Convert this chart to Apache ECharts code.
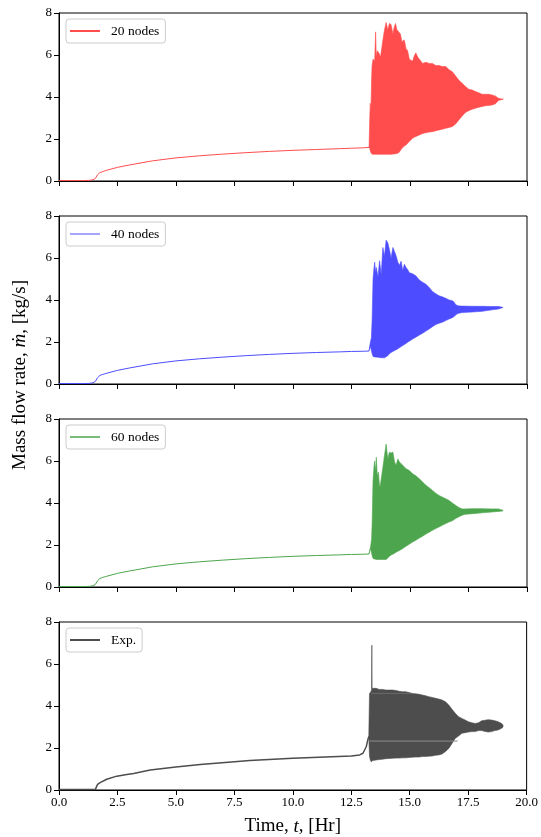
<!DOCTYPE html>
<html><head><meta charset="utf-8">
<script src="https://cdn.jsdelivr.net/npm/echarts@6/dist/echarts.min.js"></script>
<style>html,body{margin:0;padding:0;background:#fff}#c{width:541px;height:837px}</style>
</head><body><div id="c"></div>
<script>
// ---------- data ----------
const xTicks = [0, 2.5, 5, 7.5, 10, 12.5, 15, 17.5, 20];
const yTicks = [0, 2, 4, 6, 8];
const seriesNames = ['20 nodes', '40 nodes', '60 nodes', 'Exp.'];

// pre-oscillation part (simulations)
const preT = [0, 1.0, 1.3, 1.45, 1.55, 1.65, 1.75, 1.85, 2.0, 2.5, 3.0, 3.5, 4.0, 5.0, 6.0, 7.0, 8.0, 9.0, 10.0, 11.0, 12.0, 12.5, 13.0, 13.25];
const pre20 = [0.02, 0.02, 0.03, 0.06, 0.12, 0.3, 0.4, 0.44, 0.5, 0.65, 0.76, 0.86, 0.96, 1.1, 1.2, 1.28, 1.35, 1.41, 1.46, 1.5, 1.54, 1.56, 1.58, 1.6];
const pre40 = [0.02, 0.02, 0.03, 0.06, 0.12, 0.3, 0.41, 0.45, 0.5, 0.65, 0.76, 0.86, 0.96, 1.1, 1.2, 1.28, 1.35, 1.41, 1.46, 1.5, 1.53, 1.55, 1.56, 1.57];
const pre60 = [0.02, 0.02, 0.03, 0.06, 0.12, 0.3, 0.41, 0.45, 0.5, 0.65, 0.76, 0.86, 0.96, 1.1, 1.2, 1.28, 1.35, 1.41, 1.46, 1.5, 1.53, 1.55, 1.56, 1.57];
// pre-oscillation part (experiment)
const preTExp = [0, 1.0, 1.55, 1.6, 1.65, 1.76, 2.04, 2.47, 2.9, 3.19, 3.9, 5.0, 6.04, 7.5, 8.16, 10.0, 12.5, 12.86, 13.0, 13.07, 13.14, 13.21, 13.25];
const preExp = [0.02, 0.02, 0.02, 0.08, 0.27, 0.35, 0.51, 0.66, 0.74, 0.79, 0.95, 1.1, 1.22, 1.35, 1.4, 1.51, 1.62, 1.67, 1.75, 1.83, 2.06, 2.4, 2.55];

// oscillation envelopes, 20 nodes
const oscT20 = [13.25, 13.28, 13.30, 13.33, 13.36, 13.38, 13.42, 13.46, 13.49, 13.53, 13.56, 13.60, 13.67, 13.74, 13.79, 13.84, 13.91, 13.98, 14.05, 14.12, 14.19, 14.27, 14.32, 14.38, 14.44, 14.52, 14.59, 14.66, 14.71, 14.76, 14.83, 14.90, 14.97, 15.04, 15.11, 15.18, 15.25, 15.33, 15.40, 15.47, 15.54, 15.68, 15.82, 15.96, 16.10, 16.24, 16.38, 16.53, 16.67, 16.81, 16.95, 17.09, 17.23, 17.37, 17.51, 17.66, 17.80, 17.94, 18.08, 18.22, 18.36, 18.50, 18.64, 18.78, 18.93, 18.99];
const oscHi20 = [1.62, 3.0, 3.7, 3.3, 4.9, 5.5, 5.8, 5.75, 5.7, 7.1, 5.9, 6.2, 6.1, 5.9, 6.3, 6.7, 7.2, 7.55, 7.2, 7.5, 7.45, 7.0, 7.3, 7.5, 7.2, 7.1, 7.0, 6.6, 6.7, 6.7, 6.3, 6.2, 5.8, 5.75, 5.7, 5.95, 6.1, 5.9, 5.8, 5.7, 5.6, 5.65, 5.6, 5.6, 5.5, 5.5, 5.45, 5.45, 5.3, 5.2, 5.0, 4.8, 4.65, 4.5, 4.37, 4.33, 4.26, 4.2, 4.13, 4.13, 4.13, 4.1, 4.05, 3.94, 3.9, 3.9];
const oscLo20 = [1.6, 1.55, 1.45, 1.35, 1.3, 1.28, 1.27, 1.27, 1.27, 1.27, 1.27, 1.27, 1.27, 1.27, 1.27, 1.27, 1.27, 1.27, 1.27, 1.27, 1.27, 1.28, 1.29, 1.3, 1.31, 1.35, 1.45, 1.56, 1.62, 1.67, 1.72, 1.8, 1.88, 1.96, 2.03, 2.08, 2.12, 2.16, 2.19, 2.23, 2.26, 2.3, 2.33, 2.35, 2.39, 2.43, 2.47, 2.51, 2.55, 2.59, 2.72, 2.91, 3.1, 3.26, 3.35, 3.42, 3.47, 3.51, 3.55, 3.58, 3.6, 3.62, 3.67, 3.83, 3.88, 3.9];

// oscillation envelopes, 40 nodes
const oscT40 = [13.25, 13.30, 13.35, 13.38, 13.42, 13.46, 13.49, 13.53, 13.56, 13.63, 13.70, 13.77, 13.84, 13.91, 13.98, 14.05, 14.12, 14.19, 14.27, 14.34, 14.41, 14.48, 14.55, 14.62, 14.69, 14.76, 14.83, 14.90, 14.97, 15.11, 15.25, 15.40, 15.54, 15.68, 15.82, 15.96, 16.10, 16.24, 16.38, 16.53, 16.67, 16.81, 16.88, 16.95, 17.02, 17.09, 17.23, 17.66, 18.08, 18.50, 18.78, 18.97];
const oscHi40 = [1.59, 1.95, 2.2, 3.0, 5.0, 5.5, 5.8, 5.3, 5.55, 5.1, 5.87, 5.2, 6.5, 6.1, 6.85, 6.73, 6.4, 6.0, 6.5, 6.3, 6.1, 5.8, 5.65, 5.85, 5.4, 5.7, 5.55, 5.45, 5.3, 5.25, 5.15, 4.95, 4.84, 4.75, 4.6, 4.41, 4.3, 4.2, 4.15, 4.08, 4.0, 3.97, 3.9, 3.78, 3.74, 3.72, 3.71, 3.7, 3.7, 3.69, 3.69, 3.65];
const oscLo40 = [1.57, 1.8, 1.6, 1.45, 1.31, 1.3, 1.29, 1.28, 1.28, 1.27, 1.26, 1.25, 1.25, 1.25, 1.3, 1.35, 1.44, 1.5, 1.55, 1.59, 1.63, 1.68, 1.73, 1.78, 1.83, 1.88, 1.93, 1.99, 2.04, 2.14, 2.23, 2.33, 2.42, 2.52, 2.62, 2.73, 2.83, 2.89, 2.94, 3.02, 3.1, 3.16, 3.21, 3.28, 3.34, 3.37, 3.4, 3.43, 3.46, 3.53, 3.57, 3.64];

// oscillation envelopes, 60 nodes
const oscT60 = [13.25, 13.32, 13.36, 13.38, 13.42, 13.46, 13.49, 13.53, 13.56, 13.60, 13.65, 13.70, 13.74, 13.79, 13.84, 13.91, 13.98, 14.05, 14.12, 14.19, 14.27, 14.34, 14.41, 14.48, 14.55, 14.62, 14.69, 14.83, 14.97, 15.11, 15.25, 15.40, 15.54, 15.68, 15.82, 15.96, 16.10, 16.24, 16.38, 16.53, 16.67, 16.81, 16.95, 17.09, 17.23, 17.37, 17.66, 18.08, 18.50, 18.78, 18.97];
const oscHi60 = [1.59, 1.95, 2.3, 2.94, 5.07, 5.7, 6.0, 5.5, 6.18, 5.3, 5.47, 4.75, 4.9, 5.3, 5.7, 6.26, 6.81, 6.1, 6.42, 6.38, 6.42, 5.95, 5.8, 6.1, 5.95, 5.87, 5.8, 5.63, 5.55, 5.39, 5.3, 5.15, 5.0, 4.84, 4.73, 4.6, 4.47, 4.36, 4.28, 4.2, 4.12, 4.0, 3.89, 3.78, 3.72, 3.72, 3.73, 3.73, 3.72, 3.72, 3.65];
const oscLo60 = [1.57, 1.85, 1.6, 1.5, 1.36, 1.34, 1.33, 1.32, 1.31, 1.31, 1.31, 1.31, 1.31, 1.31, 1.31, 1.31, 1.31, 1.38, 1.47, 1.52, 1.56, 1.61, 1.66, 1.7, 1.74, 1.79, 1.83, 1.94, 2.04, 2.14, 2.23, 2.33, 2.42, 2.52, 2.61, 2.7, 2.78, 2.86, 2.94, 3.02, 3.1, 3.16, 3.26, 3.34, 3.42, 3.46, 3.49, 3.53, 3.57, 3.6, 3.62];

// oscillation envelopes, experiment
const oscTExp = [13.25, 13.28, 13.32, 13.35, 13.37, 13.38, 13.39, 13.42, 13.56, 13.70, 13.84, 13.98, 14.12, 14.27, 14.41, 14.55, 14.69, 14.83, 14.97, 15.11, 15.25, 15.40, 15.54, 15.68, 15.82, 15.96, 16.10, 16.24, 16.38, 16.53, 16.67, 16.81, 16.95, 17.09, 17.23, 17.37, 17.51, 17.66, 17.80, 17.94, 18.08, 18.22, 18.36, 18.50, 18.64, 18.78, 18.93, 18.99];
const oscHiExp = [2.6, 4.6, 4.65, 4.7, 4.8, 6.9, 4.85, 4.84, 4.84, 4.79, 4.79, 4.76, 4.76, 4.76, 4.74, 4.7, 4.68, 4.68, 4.64, 4.6, 4.58, 4.56, 4.52, 4.49, 4.44, 4.41, 4.37, 4.33, 4.29, 4.2, 4.05, 3.84, 3.65, 3.49, 3.41, 3.33, 3.25, 3.2, 3.17, 3.2, 3.3, 3.32, 3.35, 3.33, 3.3, 3.25, 3.17, 3.1];
const oscLoExp = [2.5, 1.6, 1.4, 1.35, 1.36, 1.37, 1.38, 1.4, 1.43, 1.45, 1.47, 1.49, 1.5, 1.51, 1.52, 1.52, 1.53, 1.53, 1.55, 1.56, 1.57, 1.57, 1.59, 1.6, 1.61, 1.62, 1.65, 1.67, 1.71, 1.83, 1.98, 2.22, 2.46, 2.57, 2.7, 2.73, 2.76, 2.78, 2.78, 2.83, 2.83, 2.79, 2.76, 2.78, 2.83, 2.86, 2.94, 3.0];
// light straight traces inside the experimental band
const expTraceT = [13.27, 17.05];
const expTraceV = [2.33, 2.33];
const expTrace2T = [13.35, 15.05];
const expTrace2V = [4.6, 4.6];

// ---------- chart ----------
const FONT = 'Liberation Serif';
const gridTops = [13, 216, 419, 622];
const gridH = 168, gridL = 59, gridW = 468;
const colors = ['#ff4d4d', '#4d4dff', '#4da64d', '#4d4d4d'];
const panels = [
  {pt: preT, pv: pre20, ot: oscT20, hi: oscHi20, lo: oscLo20, lw: 1, legLw: 2},
  {pt: preT, pv: pre40, ot: oscT40, hi: oscHi40, lo: oscLo40, lw: 1, legLw: 1},
  {pt: preT, pv: pre60, ot: oscT60, hi: oscHi60, lo: oscLo60, lw: 1, legLw: 1.5},
  {pt: preTExp, pv: preExp, ot: oscTExp, hi: oscHiExp, lo: oscLoExp, lw: 1.5, legLw: 2}
];
const zip = (a, b) => a.map((v, i) => [v, b[i]]);

// band between lower and upper envelope, drawn once from all data items
function bandRenderer(color) {
  return function (params, api) {
    if (params.dataIndexInside !== 0) return null;
    const n = params.dataInsideLength;
    const top = [], bot = [];
    for (let i = 0; i < n; i++) {
      const t = api.value(0, i), lo = api.value(1, i), hi = api.value(2, i);
      top.push(api.coord([t, hi]));
      bot.push(api.coord([t, lo]));
    }
    const pts = top.concat(bot.reverse());
    return {
      type: 'polygon', shape: {points: pts},
      style: {fill: color, stroke: color, lineWidth: 0.6},
      silent: true
    };
  };
}

const grid = [], xAxis = [], yAxis = [], series = [], legend = [];
panels.forEach((p, k) => {
  grid.push({left: gridL, top: gridTops[k], width: gridW, height: gridH, show: true, borderColor: '#000', borderWidth: 1, backgroundColor: 'transparent'});
  const last = k === panels.length - 1;
  xAxis.push({
    type: 'value', gridIndex: k, min: xTicks[0], max: xTicks[xTicks.length - 1], interval: xTicks[1] - xTicks[0],
    axisLine: {show: true, onZero: false, lineStyle: {color: '#000', width: 1}},
    axisTick: {show: true, length: 5, lineStyle: {color: '#000', width: 1}},
    axisLabel: {show: last, margin: 6, fontFamily: FONT, fontSize: 13, color: '#000', formatter: v => v.toFixed(1)},
    splitLine: {show: false},
    name: last ? 'Time, {it|t}, [Hr]' : '', nameLocation: 'middle', nameGap: 27,
    nameTextStyle: {fontFamily: FONT, fontSize: 19, color: '#000', rich: {it: {fontFamily: FONT, fontStyle: 'italic', fontSize: 19, color: '#000'}}}
  });
  yAxis.push({
    type: 'value', gridIndex: k, min: yTicks[0], max: yTicks[yTicks.length - 1], interval: yTicks[1] - yTicks[0],
    axisLine: {show: true, onZero: false, lineStyle: {color: '#000', width: 1}},
    axisTick: {show: true, length: 5, lineStyle: {color: '#000', width: 1}},
    axisLabel: {margin: 7, fontFamily: FONT, fontSize: 13, color: '#000'},
    splitLine: {show: false}
  });
  const c = colors[k];
  series.push({
    name: seriesNames[k], type: 'line', xAxisIndex: k, yAxisIndex: k, data: zip(p.pt, p.pv),
    symbol: 'none', showSymbol: false, lineStyle: {color: c, width: p.lw}, itemStyle: {color: c}, z: 3
  });
  series.push({
    name: 'band' + k, type: 'custom', xAxisIndex: k, yAxisIndex: k,
    data: p.ot.map((t, i) => [t, p.lo[i], p.hi[i]]),
    encode: {x: 0, y: [1, 2]}, renderItem: bandRenderer(c), silent: true, z: 2
  });
  legend.push({
    data: [{name: seriesNames[k], icon: 'rect'}], left: 66, top: gridTops[k] + 6,
    itemWidth: 30, itemHeight: p.legLw,
    padding: [5, 6, 5, 4], borderColor: '#cccccc', borderWidth: 1, borderRadius: 3,
    backgroundColor: 'rgba(255,255,255,0.8)', selectedMode: false,
    itemStyle: {color: c},
    textStyle: {fontFamily: FONT, fontSize: 13.5, color: '#000', padding: [3, 0, 3, 6]}
  });
});
series.push({
  name: 'trace1', type: 'line', xAxisIndex: 3, yAxisIndex: 3, data: zip(expTraceT, expTraceV),
  symbol: 'none', lineStyle: {color: '#8c8c8c', width: 1}, silent: true, z: 4
});
series.push({
  name: 'trace2', type: 'line', xAxisIndex: 3, yAxisIndex: 3, data: zip(expTrace2T, expTrace2V),
  symbol: 'none', lineStyle: {color: '#6a6a6a', width: 1}, silent: true, z: 4
});

const chart = echarts.init(document.getElementById('c'), null, {renderer: 'canvas'});
chart.setOption({
  animation: false, backgroundColor: '#fff',
  grid, xAxis, yAxis, series, legend,
  graphic: [{
    type: 'text', x: 20, y: 375, rotation: Math.PI / 2,
    style: {
      text: 'Mass flow rate, {it|ṁ}, [kg/s]', fontFamily: FONT, fontSize: 19, fill: '#000',
      align: 'center', verticalAlign: 'middle',
      rich: {it: {fontFamily: FONT, fontStyle: 'italic', fontSize: 19, fill: '#000'}}
    }
  }]
});
</script></body></html>
